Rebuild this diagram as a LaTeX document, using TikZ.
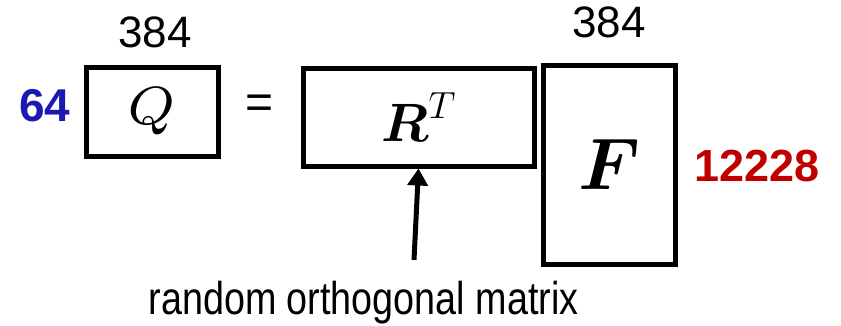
\documentclass[tikz,border=0pt]{standalone}
\usepackage{fix-cm}
\usepackage{amsmath}
\usepackage{graphicx}
\usepackage{fontspec}
\setmainfont{Liberation Sans}
\usetikzlibrary{arrows.meta, positioning}
\definecolor{dimblue}{RGB}{28,24,178}
\definecolor{dimred}{RGB}{192,0,0}

\begin{document}
\begin{tikzpicture}[
  x=1pt, y=1pt,
  mat/.style={rectangle, draw, line width=5pt, inner sep=0pt, font=\fontsize{54}{60}\selectfont},
  dimlbl/.style={inner sep=0pt, font=\fontsize{44}{48}\selectfont},
  arr/.style={-{Triangle[length=17pt, width=20pt]}, line width=5pt}
]
\useasboundingbox (0,0) rectangle (841,325);
\node[mat, minimum width=132pt, minimum height=89pt, font=\fontsize{7}{8}\selectfont] (Q) at (152,213.5) {\scalebox{7.7}{$Q$}};
\node[mat, minimum width=231pt, minimum height=98pt] (R) at (418.5,208) {$\boldsymbol{R}^T$};
\node[mat, minimum width=132pt, minimum height=199pt, font=\fontsize{73}{80}\selectfont] (F) at (609,160.5) {$\boldsymbol{F}$};
\node[dimlbl, font=\fontsize{48}{52}\selectfont] (eq) at (259.5,218.5) {=};
\node[dimlbl, above=16pt of Q, xshift=3pt] (qcols) {384};
\node[dimlbl, above=24pt of F] (fcols) {384};
\node[dimlbl, font=\fontsize{46}{50}\selectfont\bfseries, text=dimblue, left=13pt of Q, yshift=6pt] (qrows) {64};
\node[dimlbl, font=\fontsize{45}{50}\selectfont\bfseries, text=dimred, right=17pt of F, yshift=-2pt] (frows) {12228};
\coordinate (arrtail) at (414,65);
\draw[arr] (arrtail) -- (R.south);
\node[dimlbl, font=\fontsize{46}{50}\selectfont, anchor=base, xscale=0.82] (cap) at (363.5,11) {random orthogonal matrix};
\end{tikzpicture}
\end{document}
